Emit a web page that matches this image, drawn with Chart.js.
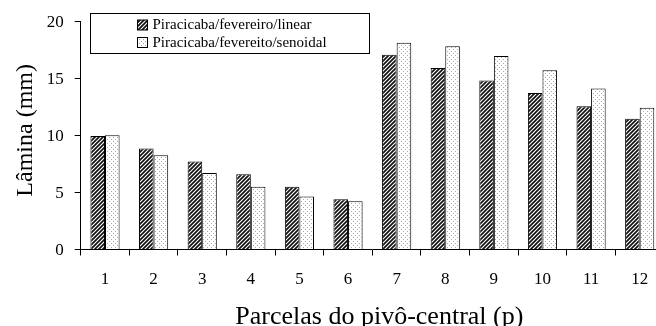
<!DOCTYPE html>
<html>
<head>
<meta charset="utf-8">
<script src="https://cdn.jsdelivr.net/npm/chart.js@4/dist/chart.umd.min.js"></script>
<style>
  html, body { margin: 0; padding: 0; background: #fff; overflow: hidden; }
  #wrap { width: 666px; height: 326px; }
</style>
</head>
<body>
<div id="wrap"><canvas id="c" width="666" height="326"></canvas></div>
<script>
// Irrigation depth per pivot plot, two water-distribution models
const categories = ['1', '2', '3', '4', '5', '6', '7', '8', '9', '10', '11', '12'];
const linearValues   = [9.95, 8.85, 7.7, 6.6, 5.5, 4.4, 17.05, 15.9, 14.8, 13.7, 12.56, 11.45];
const senoidalValues = [10.0, 8.25, 6.7, 5.5, 4.65, 4.22, 18.12, 17.8, 16.95, 15.7, 14.1, 12.42];
const seriesLabels = ['Piracicaba/fevereiro/linear', 'Piracicaba/fevereito/senoidal'];
const yTicks = [0, 5, 10, 15, 20];
const xTitle = 'Parcelas do pivô-central (p)';
const yTitle = 'Lâmina (mm)';

const FONT = '"Liberation Serif", "Times New Roman", serif';

// Fill patterns: diagonal hatching and a light dot screen
function hatchPattern() {
  const s = 4;
  const t = document.createElement('canvas');
  t.width = s; t.height = s;
  const g = t.getContext('2d');
  g.fillStyle = '#fff';
  g.fillRect(0, 0, s, s);
  g.strokeStyle = '#111';
  g.lineWidth = 1.7;
  g.beginPath();
  g.moveTo(-1, s + 1); g.lineTo(s + 1, -1);
  g.moveTo(-1, 1); g.lineTo(1, -1);
  g.moveTo(s - 1, s + 1); g.lineTo(s + 1, s - 1);
  g.stroke();
  return g.createPattern(t, 'repeat');
}
function dotPattern() {
  const s = 4;
  const t = document.createElement('canvas');
  t.width = s; t.height = s;
  const g = t.getContext('2d');
  g.fillStyle = '#fff';
  g.fillRect(0, 0, s, s);
  g.fillStyle = '#a8a8a8';
  g.fillRect(1, 1, 1, 1);
  g.fillRect(3, 3, 1, 1);
  return g.createPattern(t, 'repeat');
}

const ctx = document.getElementById('c').getContext('2d');
const hatch = hatchPattern();
const dots = dotPattern();

// Boxed legend inside the plot, top-left, plus the two axis titles
const decorations = {
  id: 'decorations',
  afterDraw(chart) {
    const c = chart.ctx;
    const x0 = 90.5, y0 = 13.5, w = 279, h = 40;
    c.save();
    c.fillStyle = '#fff';
    c.fillRect(x0, y0, w, h);
    c.strokeStyle = '#000';
    c.lineWidth = 1;
    c.strokeRect(x0, y0, w, h);
    c.font = '15px ' + FONT;
    c.textBaseline = 'middle';
    c.textAlign = 'left';
    const rows = [25, 42.5];
    chart.data.datasets.forEach((ds, i) => {
      const cy = rows[i];
      c.fillStyle = ds.backgroundColor;
      c.fillRect(137.5, cy - 5, 10, 10);
      c.strokeStyle = '#000';
      c.strokeRect(137.5, cy - 5, 10, 10);
      c.fillStyle = '#000';
      c.fillText(ds.label, 152.5, cy + 0.5);
    });

    // axis titles
    const area = chart.chartArea;
    c.fillStyle = '#000';
    c.textAlign = 'center';
    c.textBaseline = 'alphabetic';
    c.font = '26px ' + FONT;
    c.fillText(xTitle, (area.left + area.right) / 2 + 7, 323.5);
    c.translate(32, (area.top + area.bottom) / 2 - 5);
    c.rotate(-Math.PI / 2);
    c.font = '24px ' + FONT;
    c.fillText(yTitle, 0, 0);
    c.restore();
  }
};

new Chart(ctx, {
  type: 'bar',
  data: {
    labels: categories,
    datasets: [
      { label: seriesLabels[0], data: linearValues, backgroundColor: hatch,
        borderColor: '#000', borderWidth: 1 },
      { label: seriesLabels[1], data: senoidalValues, backgroundColor: dots,
        borderColor: '#000', borderWidth: 1 }
    ]
  },
  options: {
    responsive: false,
    animation: false,
    devicePixelRatio: 1,
    layout: { padding: { top: 20, right: 2, left: 0, bottom: 0 } },
    datasets: { bar: { categoryPercentage: 0.6, barPercentage: 1.0 } },
    plugins: { legend: { display: false }, tooltip: { enabled: false } },
    scales: {
      x: {
        grid: { display: true, drawOnChartArea: false, drawTicks: true, tickLength: 6,
                color: '#000', offset: true },
        border: { display: true, color: '#000', width: 1 },
        ticks: { color: '#000', padding: 14, font: { family: FONT, size: 17 } },
        afterFit(scale) { scale.height = 76.5; }
      },
      y: {
        min: 0, max: 20,
        afterBuildTicks(scale) { scale.ticks = yTicks.map(v => ({ value: v })); },
        grid: { display: true, drawOnChartArea: false, drawTicks: true, tickLength: 6, color: '#000' },
        border: { display: true, color: '#000', width: 1 },
        ticks: { color: '#000', padding: 11, labelOffset: 1.5, font: { family: FONT, size: 17 } },
        afterFit(scale) { scale.width = 80.7; }
      }
    }
  },
  plugins: [decorations]
});
</script>
</body>
</html>
